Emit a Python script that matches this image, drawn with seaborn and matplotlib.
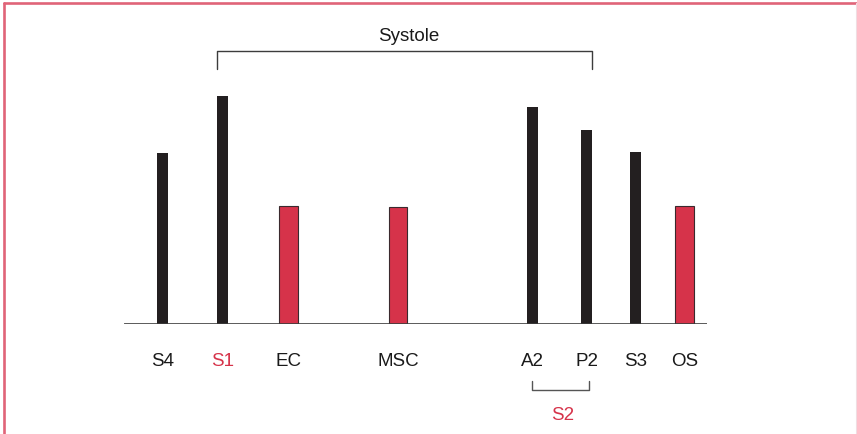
import numpy as np
import pandas as pd
import matplotlib
matplotlib.use("Agg")
import matplotlib.pyplot as plt
import seaborn as sns

# ── DATA ──────────────────────────────────────────────────────────────────────
SOUNDS   = ["S4", "S1", "EC", "MSC", "A2", "P2", "S3", "OS"]
TIMES    = [38.5, 98.7, 164.5, 274.0, 408.0, 462.7, 511.3, 560.7]   # position on time axis
LOUDNESS = [171, 228, 118, 117, 217, 194, 172, 118]                  # relative intensity
KIND     = ["sound", "sound", "click", "click", "sound", "sound", "sound", "click"]
LABEL_RED = ["S1"]

# ── STYLE ─────────────────────────────────────────────────────────────────────
BLACK   = "#231f20"
RED     = "#d6334a"
BORDER  = "#e06478"
GREY    = "#3c3c3c"
BAR_PX  = {"sound": 11, "click": 18.5}
FS      = 13.5

sns.set_theme(style="white")
plt.rcParams["font.family"] = ["Liberation Sans", "DejaVu Sans"]

W, H = 857, 435
fig = plt.figure(figsize=(W / 100, H / 100), dpi=100)
ax = fig.add_axes([124 / W, (H - 325) / H, 583 / W, 325 / H])

df = pd.DataFrame({"sound": SOUNDS, "t": TIMES, "v": LOUDNESS, "kind": KIND})

for kind, col in [("sound", BLACK), ("click", RED)]:
    sub = df[df.kind == kind]
    step = np.diff(np.sort(sub.t.unique())).min()
    sns.barplot(data=sub, x="t", y="v", native_scale=True, ax=ax,
                width=BAR_PX[kind] / step, color=col, saturation=1,
                edgecolor="#3a2a2e" if kind == "click" else col,
                linewidth=0.8 if kind == "click" else 0, errorbar=None)

ax.set_xlim(0, 583)
ax.set_ylim(0, 325)
ax.axhline(0, color=GREY, lw=1.9, zorder=5)
for s in ax.spines.values():
    s.set_visible(False)
ax.set_xticks([]); ax.set_yticks([])
ax.set_xlabel(""); ax.set_ylabel("")
ax.patch.set_alpha(0)

# sound labels under baseline
for name, t in zip(SOUNDS, TIMES):
    ax.text(t, -36.5, name, ha="center", va="center", fontsize=FS,
            color=RED if name in LABEL_RED else "#1a1a1a", clip_on=False)

# systole bracket: S1 left edge -> P2 right edge
tS1, tA2, tP2 = TIMES[1], TIMES[4], TIMES[5]
x0, x1 = tS1 - BAR_PX["sound"] / 2, tP2 + BAR_PX["sound"] / 2
ax.plot([x0, x0, x1, x1], [255, 273.3, 273.3, 255], color=GREY, lw=1, clip_on=False)
ax.text((x0 + x1) / 2 + 4, 288.5, "Systole", ha="center", va="center",
        fontsize=FS, color="#1a1a1a", clip_on=False)

# S2 bracket under A2 / P2
ax.plot([tA2, tA2, tP2 + 2, tP2 + 2], [-56.7, -65.7, -65.7, -56.7],
        color="#555555", lw=1, clip_on=False)
ax.text((tA2 + tP2) / 2 + 3, -91, "S2", ha="center", va="center",
        fontsize=FS, color=RED, clip_on=False)

# frame around figure (top/left red, right faint)
fig.add_artist(plt.Line2D([4 / W, 4 / W], [0, 1 - 4 / H], color=BORDER, lw=1.9))
fig.add_artist(plt.Line2D([4 / W, 1], [1 - 4 / H, 1 - 4 / H], color=BORDER, lw=1.9))
fig.add_artist(plt.Line2D([856 / W, 856 / W], [0, 1 - 4 / H], color="#f0dde2", lw=0.8))

fig.savefig("out.png", dpi=100)
